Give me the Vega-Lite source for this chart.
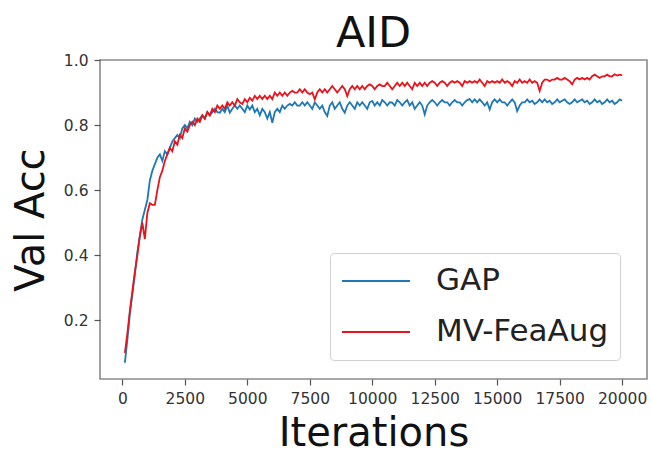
{
 "$schema": "https://vega.github.io/schema/vega-lite/v6.json",
 "width": 547,
 "height": 319,
 "autosize": "none",
 "padding": {"left": 100, "top": 60, "right": 4, "bottom": 74},
 "background": "white",
 "title": {"text": "AID", "fontSize": 43, "font": "DejaVu Sans", "fontWeight": "normal", "color": "#111111", "baseline": "bottom", "offset": 4, "dy": 50, "anchor": "middle"},
 "config": {
  "view": {"stroke": "#8a8a8a", "strokeWidth": 1.6},
  "axis": {"grid": false, "domain": false, "ticks": true, "tickSize": 6, "tickColor": "#555555", "tickWidth": 1.2, "labelFont": "DejaVu Sans", "labelFontSize": 15.5, "labelColor": "#333333", "labelPadding": 6, "titleFont": "DejaVu Sans", "titleFontSize": 40, "titleFontWeight": "normal", "titleColor": "#111111"}
 },
 "data": {"values": [
  {"it":100,"GAP":0.07,"MV-FeaAug":0.10},{"it":200,"GAP":0.14,"MV-FeaAug":0.16},{"it":300,"GAP":0.22,"MV-FeaAug":0.23},{"it":400,"GAP":0.28,"MV-FeaAug":0.29},{"it":500,"GAP":0.34,"MV-FeaAug":0.35},
  {"it":600,"GAP":0.41,"MV-FeaAug":0.40},{"it":700,"GAP":0.46,"MV-FeaAug":0.46},{"it":800,"GAP":0.51,"MV-FeaAug":0.50},{"it":900,"GAP":0.54,"MV-FeaAug":0.45},{"it":1000,"GAP":0.57,"MV-FeaAug":0.53},
  {"it":1100,"GAP":0.63,"MV-FeaAug":0.56},{"it":1200,"GAP":0.66,"MV-FeaAug":0.555},{"it":1300,"GAP":0.68,"MV-FeaAug":0.555},{"it":1400,"GAP":0.70,"MV-FeaAug":0.60},{"it":1500,"GAP":0.71,"MV-FeaAug":0.64},
  {"it":1600,"GAP":0.69,"MV-FeaAug":0.66},{"it":1700,"GAP":0.72,"MV-FeaAug":0.69},{"it":1800,"GAP":0.71,"MV-FeaAug":0.71},{"it":1900,"GAP":0.73,"MV-FeaAug":0.73},{"it":2000,"GAP":0.75,"MV-FeaAug":0.72},
  {"it":2100,"GAP":0.76,"MV-FeaAug":0.75},{"it":2200,"GAP":0.77,"MV-FeaAug":0.74},{"it":2300,"GAP":0.76,"MV-FeaAug":0.77},{"it":2400,"GAP":0.79,"MV-FeaAug":0.76},{"it":2500,"GAP":0.80,"MV-FeaAug":0.79},
  {"it":2600,"GAP":0.79,"MV-FeaAug":0.78},{"it":2700,"GAP":0.81,"MV-FeaAug":0.80},{"it":2800,"GAP":0.80,"MV-FeaAug":0.81},{"it":2900,"GAP":0.82,"MV-FeaAug":0.80},{"it":3000,"GAP":0.81,"MV-FeaAug":0.82},
  {"it":3100,"GAP":0.82,"MV-FeaAug":0.81},{"it":3200,"GAP":0.83,"MV-FeaAug":0.83},{"it":3300,"GAP":0.82,"MV-FeaAug":0.82},{"it":3400,"GAP":0.84,"MV-FeaAug":0.84},{"it":3500,"GAP":0.83,"MV-FeaAug":0.83},
  {"it":3600,"GAP":0.84,"MV-FeaAug":0.85},{"it":3700,"GAP":0.85,"MV-FeaAug":0.84},{"it":3800,"GAP":0.84,"MV-FeaAug":0.86},{"it":3900,"GAP":0.838,"MV-FeaAug":0.85},{"it":4000,"GAP":0.85,"MV-FeaAug":0.86},
  {"it":4100,"GAP":0.84,"MV-FeaAug":0.85},{"it":4200,"GAP":0.86,"MV-FeaAug":0.87},{"it":4300,"GAP":0.838,"MV-FeaAug":0.86},{"it":4400,"GAP":0.85,"MV-FeaAug":0.87},{"it":4500,"GAP":0.86,"MV-FeaAug":0.86},
  {"it":4600,"GAP":0.85,"MV-FeaAug":0.88},{"it":4700,"GAP":0.86,"MV-FeaAug":0.87},{"it":4800,"GAP":0.85,"MV-FeaAug":0.865},{"it":4900,"GAP":0.84,"MV-FeaAug":0.88},{"it":5000,"GAP":0.86,"MV-FeaAug":0.87},
  {"it":5100,"GAP":0.848,"MV-FeaAug":0.884},{"it":5200,"GAP":0.86,"MV-FeaAug":0.875},{"it":5300,"GAP":0.84,"MV-FeaAug":0.89},{"it":5400,"GAP":0.85,"MV-FeaAug":0.88},{"it":5500,"GAP":0.83,"MV-FeaAug":0.89},
  {"it":5600,"GAP":0.85,"MV-FeaAug":0.88},{"it":5700,"GAP":0.84,"MV-FeaAug":0.89},{"it":5800,"GAP":0.82,"MV-FeaAug":0.88},{"it":5900,"GAP":0.84,"MV-FeaAug":0.89},{"it":6000,"GAP":0.807,"MV-FeaAug":0.88},
  {"it":6100,"GAP":0.84,"MV-FeaAug":0.90},{"it":6200,"GAP":0.85,"MV-FeaAug":0.89},{"it":6300,"GAP":0.84,"MV-FeaAug":0.90},{"it":6400,"GAP":0.86,"MV-FeaAug":0.89},{"it":6500,"GAP":0.85,"MV-FeaAug":0.90},
  {"it":6600,"GAP":0.86,"MV-FeaAug":0.89},{"it":6700,"GAP":0.865,"MV-FeaAug":0.90},{"it":6800,"GAP":0.86,"MV-FeaAug":0.905},{"it":6900,"GAP":0.87,"MV-FeaAug":0.90},{"it":7000,"GAP":0.86,"MV-FeaAug":0.90},
  {"it":7100,"GAP":0.86,"MV-FeaAug":0.91},{"it":7200,"GAP":0.87,"MV-FeaAug":0.90},{"it":7300,"GAP":0.86,"MV-FeaAug":0.91},{"it":7400,"GAP":0.87,"MV-FeaAug":0.90},{"it":7500,"GAP":0.86,"MV-FeaAug":0.895},
  {"it":7600,"GAP":0.85,"MV-FeaAug":0.90},{"it":7700,"GAP":0.87,"MV-FeaAug":0.879},{"it":7800,"GAP":0.86,"MV-FeaAug":0.90},{"it":7900,"GAP":0.85,"MV-FeaAug":0.91},{"it":8000,"GAP":0.86,"MV-FeaAug":0.90},
  {"it":8100,"GAP":0.84,"MV-FeaAug":0.91},{"it":8200,"GAP":0.828,"MV-FeaAug":0.90},{"it":8300,"GAP":0.86,"MV-FeaAug":0.91},{"it":8400,"GAP":0.87,"MV-FeaAug":0.92},{"it":8500,"GAP":0.85,"MV-FeaAug":0.91},
  {"it":8600,"GAP":0.86,"MV-FeaAug":0.90},{"it":8700,"GAP":0.87,"MV-FeaAug":0.91},{"it":8800,"GAP":0.85,"MV-FeaAug":0.92},{"it":8900,"GAP":0.838,"MV-FeaAug":0.91},{"it":9000,"GAP":0.86,"MV-FeaAug":0.889},
  {"it":9100,"GAP":0.87,"MV-FeaAug":0.91},{"it":9200,"GAP":0.86,"MV-FeaAug":0.92},{"it":9300,"GAP":0.85,"MV-FeaAug":0.91},{"it":9400,"GAP":0.87,"MV-FeaAug":0.92},{"it":9500,"GAP":0.86,"MV-FeaAug":0.91},
  {"it":9600,"GAP":0.87,"MV-FeaAug":0.92},{"it":9700,"GAP":0.86,"MV-FeaAug":0.91},{"it":9800,"GAP":0.85,"MV-FeaAug":0.92},{"it":9900,"GAP":0.87,"MV-FeaAug":0.925},{"it":10000,"GAP":0.874,"MV-FeaAug":0.92},
  {"it":10100,"GAP":0.86,"MV-FeaAug":0.91},{"it":10200,"GAP":0.87,"MV-FeaAug":0.92},{"it":10300,"GAP":0.86,"MV-FeaAug":0.925},{"it":10400,"GAP":0.877,"MV-FeaAug":0.92},{"it":10500,"GAP":0.87,"MV-FeaAug":0.92},
  {"it":10600,"GAP":0.86,"MV-FeaAug":0.93},{"it":10700,"GAP":0.87,"MV-FeaAug":0.92},{"it":10800,"GAP":0.869,"MV-FeaAug":0.91},{"it":10900,"GAP":0.86,"MV-FeaAug":0.92},{"it":11000,"GAP":0.877,"MV-FeaAug":0.93},
  {"it":11100,"GAP":0.87,"MV-FeaAug":0.92},{"it":11200,"GAP":0.86,"MV-FeaAug":0.93},{"it":11300,"GAP":0.87,"MV-FeaAug":0.92},{"it":11400,"GAP":0.877,"MV-FeaAug":0.93},{"it":11500,"GAP":0.86,"MV-FeaAug":0.92},
  {"it":11600,"GAP":0.87,"MV-FeaAug":0.91},{"it":11700,"GAP":0.85,"MV-FeaAug":0.93},{"it":11800,"GAP":0.86,"MV-FeaAug":0.92},{"it":11900,"GAP":0.87,"MV-FeaAug":0.93},{"it":12000,"GAP":0.86,"MV-FeaAug":0.92},
  {"it":12100,"GAP":0.833,"MV-FeaAug":0.93},{"it":12200,"GAP":0.86,"MV-FeaAug":0.92},{"it":12300,"GAP":0.87,"MV-FeaAug":0.93},{"it":12400,"GAP":0.877,"MV-FeaAug":0.935},{"it":12500,"GAP":0.87,"MV-FeaAug":0.93},
  {"it":12600,"GAP":0.86,"MV-FeaAug":0.92},{"it":12700,"GAP":0.87,"MV-FeaAug":0.93},{"it":12800,"GAP":0.877,"MV-FeaAug":0.935},{"it":12900,"GAP":0.87,"MV-FeaAug":0.93},{"it":13000,"GAP":0.87,"MV-FeaAug":0.92},
  {"it":13100,"GAP":0.86,"MV-FeaAug":0.93},{"it":13200,"GAP":0.87,"MV-FeaAug":0.935},{"it":13300,"GAP":0.877,"MV-FeaAug":0.93},{"it":13400,"GAP":0.87,"MV-FeaAug":0.935},{"it":13500,"GAP":0.87,"MV-FeaAug":0.93},
  {"it":13600,"GAP":0.86,"MV-FeaAug":0.92},{"it":13700,"GAP":0.87,"MV-FeaAug":0.935},{"it":13800,"GAP":0.877,"MV-FeaAug":0.93},{"it":13900,"GAP":0.88,"MV-FeaAug":0.935},{"it":14000,"GAP":0.87,"MV-FeaAug":0.93},
  {"it":14100,"GAP":0.879,"MV-FeaAug":0.935},{"it":14200,"GAP":0.87,"MV-FeaAug":0.93},{"it":14300,"GAP":0.879,"MV-FeaAug":0.94},{"it":14400,"GAP":0.87,"MV-FeaAug":0.93},{"it":14500,"GAP":0.86,"MV-FeaAug":0.92},
  {"it":14600,"GAP":0.87,"MV-FeaAug":0.935},{"it":14700,"GAP":0.848,"MV-FeaAug":0.93},{"it":14800,"GAP":0.87,"MV-FeaAug":0.935},{"it":14900,"GAP":0.879,"MV-FeaAug":0.93},{"it":15000,"GAP":0.87,"MV-FeaAug":0.935},
  {"it":15100,"GAP":0.879,"MV-FeaAug":0.93},{"it":15200,"GAP":0.87,"MV-FeaAug":0.94},{"it":15300,"GAP":0.87,"MV-FeaAug":0.93},{"it":15400,"GAP":0.86,"MV-FeaAug":0.935},{"it":15500,"GAP":0.87,"MV-FeaAug":0.93},
  {"it":15600,"GAP":0.879,"MV-FeaAug":0.92},{"it":15700,"GAP":0.87,"MV-FeaAug":0.935},{"it":15800,"GAP":0.843,"MV-FeaAug":0.93},{"it":15900,"GAP":0.86,"MV-FeaAug":0.94},{"it":16000,"GAP":0.87,"MV-FeaAug":0.93},
  {"it":16100,"GAP":0.87,"MV-FeaAug":0.935},{"it":16200,"GAP":0.879,"MV-FeaAug":0.93},{"it":16300,"GAP":0.87,"MV-FeaAug":0.94},{"it":16400,"GAP":0.875,"MV-FeaAug":0.93},{"it":16500,"GAP":0.865,"MV-FeaAug":0.935},
  {"it":16600,"GAP":0.87,"MV-FeaAug":0.93},{"it":16700,"GAP":0.879,"MV-FeaAug":0.905},{"it":16800,"GAP":0.87,"MV-FeaAug":0.93},{"it":16900,"GAP":0.879,"MV-FeaAug":0.94},{"it":17000,"GAP":0.87,"MV-FeaAug":0.94},
  {"it":17100,"GAP":0.875,"MV-FeaAug":0.935},{"it":17200,"GAP":0.865,"MV-FeaAug":0.94},{"it":17300,"GAP":0.87,"MV-FeaAug":0.94},{"it":17400,"GAP":0.879,"MV-FeaAug":0.945},{"it":17500,"GAP":0.87,"MV-FeaAug":0.94},
  {"it":17600,"GAP":0.875,"MV-FeaAug":0.94},{"it":17700,"GAP":0.879,"MV-FeaAug":0.945},{"it":17800,"GAP":0.87,"MV-FeaAug":0.94},{"it":17900,"GAP":0.865,"MV-FeaAug":0.935},{"it":18000,"GAP":0.87,"MV-FeaAug":0.925},
  {"it":18100,"GAP":0.879,"MV-FeaAug":0.94},{"it":18200,"GAP":0.87,"MV-FeaAug":0.945},{"it":18300,"GAP":0.875,"MV-FeaAug":0.94},{"it":18400,"GAP":0.879,"MV-FeaAug":0.945},{"it":18500,"GAP":0.87,"MV-FeaAug":0.94},
  {"it":18600,"GAP":0.875,"MV-FeaAug":0.945},{"it":18700,"GAP":0.865,"MV-FeaAug":0.94},{"it":18800,"GAP":0.87,"MV-FeaAug":0.95},{"it":18900,"GAP":0.879,"MV-FeaAug":0.955},{"it":19000,"GAP":0.87,"MV-FeaAug":0.95},
  {"it":19100,"GAP":0.875,"MV-FeaAug":0.945},{"it":19200,"GAP":0.865,"MV-FeaAug":0.95},{"it":19300,"GAP":0.87,"MV-FeaAug":0.95},{"it":19400,"GAP":0.879,"MV-FeaAug":0.955},{"it":19500,"GAP":0.87,"MV-FeaAug":0.95},
  {"it":19600,"GAP":0.875,"MV-FeaAug":0.95},{"it":19700,"GAP":0.865,"MV-FeaAug":0.956},{"it":19800,"GAP":0.87,"MV-FeaAug":0.952},{"it":19900,"GAP":0.879,"MV-FeaAug":0.955},{"it":20000,"GAP":0.875,"MV-FeaAug":0.953}
 ]},
 "transform": [{"fold": ["GAP", "MV-FeaAug"], "as": ["series", "acc"]}],
 "mark": {"type": "line", "strokeWidth": 1.8},
 "encoding": {
  "x": {"field": "it", "type": "quantitative", "scale": {"domain": [-895, 20995], "nice": false, "zero": false},
        "axis": {"values": [0, 2500, 5000, 7500, 10000, 12500, 15000, 17500, 20000], "format": "d", "title": "Iterations", "titleY": 66, "titleBaseline": "alphabetic"}},
  "y": {"field": "acc", "type": "quantitative", "scale": {"domain": [0.02, 1.0], "nice": false, "zero": false},
        "axis": {"values": [0.2, 0.4, 0.6, 0.8, 1.0], "format": ".1f", "title": "Val Acc", "titleX": -57, "titleBaseline": "alphabetic"}},
  "color": {"field": "series", "type": "nominal", "sort": ["GAP", "MV-FeaAug"],
            "scale": {"domain": ["GAP", "MV-FeaAug"], "range": ["#1f77b4", "#e8141c"]},
            "legend": {"title": null, "orient": "none", "legendX": 230, "legendY": 193, "symbolType": "stroke", "symbolSize": 4624, "symbolStrokeWidth": 2, "labelFont": "DejaVu Sans", "labelFontSize": 31, "labelColor": "#222222", "labelOffset": 25, "labelLimit": 400, "clipHeight": 34, "rowPadding": 17, "padding": 11, "strokeColor": "#d0d0d0", "cornerRadius": 4, "fillColor": "white"}}
 }
}
